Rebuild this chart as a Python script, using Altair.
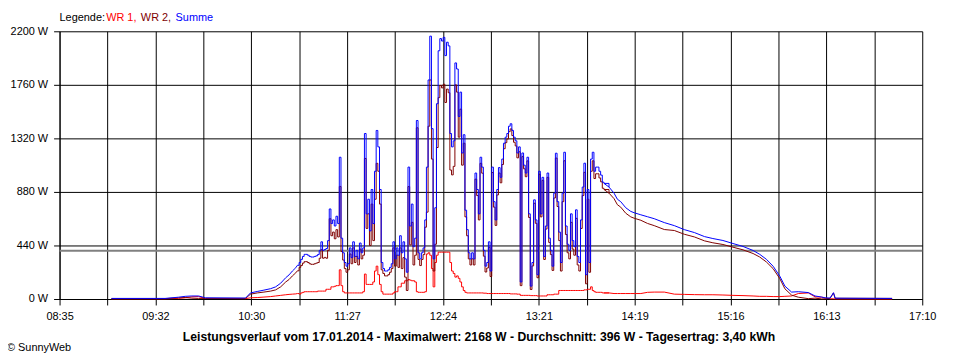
import altair as alt
import pandas as pd

# ---------------- data ----------------
# time in minutes since midnight
minutes_early = [546, 578, 586, 590, 594, 598, 602, 626, 629, 633,
                 637, 641, 644, 647, 650, 652, 654, 656]
wr1_early = [2, 2, 5, 10, 18, 20, 5, 3, 10, 12,
             16, 20, 25, 30, 35, 38, 40, 42]
wr2_early = [3, 3, 10, 12, 7, 5, 5, 5, 40, 50,
             57, 65, 75, 100, 140, 160, 190, 215]
summe_early = [5, 5, 15, 22, 25, 25, 10, 8, 50, 62,
               73, 85, 100, 130, 175, 198, 230, 257]

minutes_mid = [657, 658, 659, 660, 661, 662, 663, 664, 665, 666,
               667, 668, 669, 670, 671, 672, 673, 674, 675, 676,
               677, 678, 679, 680, 681, 682, 683, 684, 685, 686,
               687, 688, 689, 690, 691, 692, 693, 694, 695, 696,
               697, 698, 699, 700, 701, 702, 703, 704, 705, 706,
               707, 708, 709, 710, 711, 712, 713, 714, 715, 716,
               717, 718, 719, 720, 721, 722, 723, 724, 725, 726,
               727, 728, 729, 730, 731, 732, 733, 734, 735, 736,
               737, 738, 739, 740, 741, 742, 743, 744, 745, 746,
               747, 748, 749, 750, 751, 752, 753, 754, 755, 756,
               757, 758, 759, 760, 761, 762, 763, 764, 765, 766,
               767, 768, 769, 770, 771, 772, 773, 774, 775, 776,
               777, 778, 779, 780, 781, 782, 783, 784, 785, 786,
               787, 788, 789, 790, 791, 792, 793, 794, 795, 796,
               797, 798, 799, 800, 801, 802, 803, 804, 805, 806,
               807, 808, 809, 810, 811, 812, 813, 814, 815, 816,
               817, 818, 819, 820, 821, 822, 823, 824, 825, 826,
               827, 828, 829, 830, 831, 832, 833, 834, 835, 836,
               837, 838, 839, 840]
wr1_mid = [45, 40, 50, 55, 60, 60, 60, 60, 60, 60,
           60, 60, 65, 65, 65, 65, 65, 80, 80, 80,
           100, 100, 105, 110, 110, 240, 110, 60, 50, 50,
           50, 50, 50, 50, 50, 50, 50, 50, 50, 60,
           205, 120, 120, 120, 120, 140, 230, 270, 200, 120,
           60, 40, 40, 40, 40, 40, 40, 50, 60, 60,
           100, 100, 130, 130, 150, 150, 160, 155, 150, 150,
           140, 60, 55, 55, 55, 55, 60, 370, 380, 360,
           250, 100, 300, 360, 385, 385, 385, 385, 385, 385,
           385, 300, 230, 210, 180, 190, 170, 140, 100, 70,
           55, 50, 50, 50, 50, 50, 50, 50, 50, 50,
           50, 48, 48, 45, 45, 45, 45, 45, 45, 45,
           45, 45, 45, 45, 45, 45, 45, 42, 42, 42,
           42, 40, 40, 30, 30, 30, 30, 30, 30, 28,
           28, 28, 28, 25, 25, 25, 25, 25, 25, 35,
           35, 35, 35, 40, 40, 40, 70, 70, 70, 70,
           70, 70, 70, 70, 70, 70, 70, 70, 70, 70,
           70, 75, 75, 80, 80, 100, 70, 60, 55, 55,
           55, 55, 50, 50]
wr2_mid = [232, 260, 276, 295, 307, 307, 300, 290, 285, 285,
           290, 295, 300, 335, 405, 335, 342, 335, 400, 660,
           520, 550, 495, 570, 510, 925, 390, 320, 250, 220,
           240, 370, 290, 420, 300, 350, 280, 410, 330, 360,
           1155, 580, 700, 440, 780, 480, 820, 1115, 1050, 780,
           240, 210, 190, 190, 200, 220, 250, 420, 270, 360,
           260, 420, 250, 340, 180, 70, 924, 445, 630, 280,
           360, 1407, 325, 275, 325, 365, 590, 714, 1420, 1800,
           1150, 230, 450, 1245, 1655, 1755, 1735, 1765, 1615, 1725,
           1695, 1060, 1020, 1090, 1760, 1700, 1330, 1560, 1100, 1280,
           675, 520, 330, 280, 330, 280, 985, 850, 650, 1115,
           1034, 352, 222, 255, 425, 185, 1039, 755, 605, 855,
           1035, 955, 1105, 1235, 1285, 1315, 1375, 1398, 1343, 1288,
           1258, 1160, 1210, 110, 1170, 1070, 1005, 1135, 670, 78,
           272, 787, 622, 175, 1025, 675, 975, 325, 575, 1000,
           465, 365, 235, 830, 1158, 760, 480, 230, 800, 1136,
           530, 380, 330, 630, 410, 360, 663, 280, 230, 580,
           850, 1041, 125, 820, 220, 1050, 1136, 990, 1029, 1029,
           995, 963, 910, 900]
summe_mid = [277, 300, 326, 350, 367, 367, 360, 350, 345, 345,
             350, 355, 365, 400, 470, 400, 407, 415, 480, 740,
             620, 650, 600, 680, 620, 1165, 500, 380, 300, 270,
             290, 420, 340, 470, 350, 400, 330, 460, 380, 420,
             1360, 700, 820, 560, 900, 620, 1050, 1385, 1250, 900,
             300, 250, 230, 230, 240, 260, 290, 470, 330, 420,
             360, 520, 380, 470, 330, 220, 1084, 600, 780, 430,
             500, 1467, 380, 330, 380, 420, 650, 1084, 1800, 2160,
             1400, 330, 750, 1605, 2040, 2140, 2120, 2150, 2000, 2110,
             2080, 1360, 1250, 1300, 1940, 1890, 1500, 1700, 1200, 1350,
             730, 570, 380, 330, 380, 330, 1035, 900, 700, 1165,
             1084, 400, 270, 300, 470, 230, 1084, 800, 650, 900,
             1080, 1000, 1150, 1280, 1330, 1360, 1420, 1440, 1385, 1330,
             1300, 1200, 1250, 140, 1200, 1100, 1035, 1165, 700, 106,
             300, 815, 650, 200, 1050, 700, 1000, 350, 600, 1035,
             500, 400, 270, 870, 1198, 800, 550, 300, 870, 1206,
             600, 450, 400, 700, 480, 430, 733, 350, 300, 650,
             920, 1116, 200, 900, 300, 1150, 1206, 1050, 1084, 1084,
             1050, 1018, 960, 950]

minutes_late = [843, 846, 848, 850, 853, 856, 858, 862, 866, 870,
                876, 882, 888, 894, 900, 905, 911, 917, 923, 929,
                933, 937, 941, 945, 948, 952, 956, 962, 966, 970,
                972, 975, 977, 978, 1012]
wr1_late = [50, 45, 45, 45, 45, 45, 45, 45, 55, 57,
            57, 40, 38, 36, 35, 35, 33, 30, 28, 25,
            22, 22, 20, 20, 22, 25, 45, 50, 18, 15,
            8, 2, 2, 1, 0]
wr2_late = [870, 825, 775, 755, 705, 675, 664, 647, 621, 603,
            571, 563, 532, 510, 478, 462, 448, 426, 404, 374,
            345, 304, 249, 167, 84, 32, 15, 3, 7, 1,
            2, 6, 50, 6, 5]
summe_late = [920, 870, 820, 800, 750, 720, 709, 692, 676, 660,
              628, 603, 570, 546, 513, 497, 481, 456, 432, 399,
              367, 326, 269, 187, 106, 57, 60, 53, 25, 16,
              10, 8, 52, 7, 5]

x_tick_labels = ["08:35", "09:32", "10:30", "11:27", "12:24",
                 "13:21", "14:19", "15:16", "16:13", "17:10"]
y_tick_values = [0, 440, 880, 1320, 1760, 2200]
average_w = 396
title_text = ("Leistungsverlauf vom 17.01.2014 - Maximalwert: 2168 W - "
              "Durchschnitt: 396 W - Tagesertrag: 3,40 kWh")

# ---------------- build tables ----------------
minutes = minutes_early + minutes_mid + minutes_late
wr1 = wr1_early + wr1_mid + wr1_late
wr2 = wr2_early + wr2_mid + wr2_late
summe = summe_early + summe_mid + summe_late
assert len(minutes) == len(wr1) == len(wr2) == len(summe), (
    len(minutes), len(wr1), len(wr2), len(summe))

df = pd.DataFrame({"t": minutes, "wr1": wr1, "wr2": wr2, "summe": summe})
MID_START, MID_END = minutes_mid[0], minutes_mid[-1]
LATE_START = minutes_late[0]

T0, T1 = 515, 1030
STEP = (T1 - T0) / 18
x_ticks = [T0 + i * STEP for i in range(19)]
label_arr = [x_tick_labels[i // 2] if i % 2 == 0 else "" for i in range(19)]
label_expr = ("[" + ",".join("'%s'" % s for s in label_arr) + "]"
              + "[round((datum.value - %d) / %.6f)]" % (T0, STEP))

FONT = "Liberation Sans"

x_enc = alt.X(
    "t:Q",
    scale=alt.Scale(domain=[T0, T1], nice=False, zero=False),
    axis=alt.Axis(values=x_ticks, labelExpr=label_expr, title=None,
                  grid=True, gridColor="black", gridOpacity=1, gridWidth=1,
                  tickColor="black", tickSize=6, tickWidth=1,
                  domainColor="black", domainWidth=1,
                  labelColor="black", labelFont=FONT, labelFontSize=11,
                  labelPadding=6, labelAngle=0, labelOverlap=False,
                  labelFlush=False, labelBound=False),
)


def y_enc(field):
    return alt.Y(
        field + ":Q",
        scale=alt.Scale(domain=[0, 2200], nice=False),
        axis=alt.Axis(values=y_tick_values, labelExpr="datum.value + ' W'",
                      title=None, grid=True, gridColor="black", gridOpacity=1,
                      gridWidth=1, tickColor="black", tickSize=6, tickWidth=1,
                      domainColor="black", domainWidth=1,
                      labelColor="black", labelFont=FONT, labelFontSize=11,
                      labelPadding=6, labelOverlap=False, labelFlush=False,
                      labelBound=False),
    )


base = alt.Chart(df)


def series_layers(field, color):
    # smooth parts drawn linear, the fluctuating midday part as stepped trace
    early = base.transform_filter(alt.datum.t <= MID_START).mark_line(
        color=color, strokeWidth=1).encode(x=x_enc, y=y_enc(field))
    mid = base.transform_filter(
        (alt.datum.t >= MID_START) & (alt.datum.t <= LATE_START)
    ).mark_line(color=color, strokeWidth=1, interpolate="step-after").encode(
        x=x_enc, y=y_enc(field))
    late = base.transform_filter(alt.datum.t >= MID_END).mark_line(
        color=color, strokeWidth=1).encode(x=x_enc, y=y_enc(field))
    return [early, mid, late]


avg = alt.Chart(pd.DataFrame({"avg": [average_w]})).mark_rule(
    color="#808080", strokeWidth=2).encode(y=alt.Y("avg:Q"))

one = pd.DataFrame({"a": [0]})


def label(text, x, y, color="black", bold=False, align="left", size=11):
    return alt.Chart(one).mark_text(
        font=FONT, fontSize=size, color=color, align=align, baseline="middle",
        fontWeight="bold" if bold else "normal",
    ).encode(x=alt.value(x), y=alt.value(y), text=alt.value(text))


texts = [
    label("Legende:", 0, -13),
    label("WR 1,", 47, -13, "#ff0000"),
    label("WR 2,", 82, -13, "#800000"),
    label("Summe", 117, -13, "#0000ff"),
    label(title_text, 423, 308, bold=True, align="center", size=12.3),
    label("© SunnyWeb", -53, 319),
]

layers = ([avg] + series_layers("wr1", "#ff0000")
          + series_layers("wr2", "#800000")
          + series_layers("summe", "#0000ff") + texts)

chart = alt.layer(*layers).properties(
    width=870, height=270,
    autosize=alt.AutoSizeParams(type="none"),
    padding={"left": 52, "top": 22, "right": 30, "bottom": 58},
    background="white",
).configure_view(stroke=None)

chart.save("out.html", embed_options={"renderer": "svg", "actions": False})
